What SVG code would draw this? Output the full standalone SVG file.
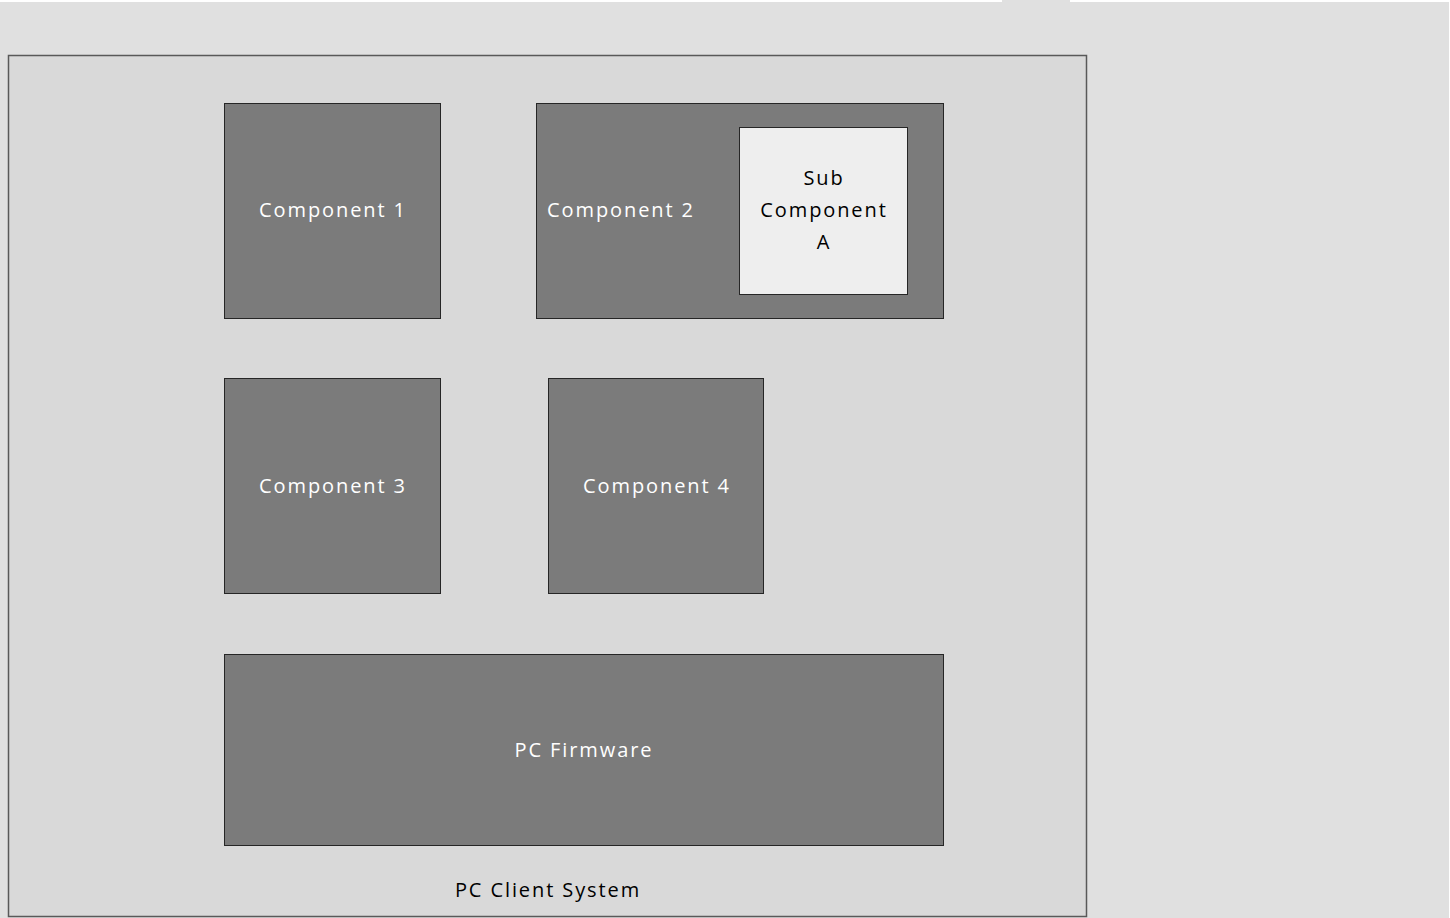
<svg xmlns="http://www.w3.org/2000/svg" width="1450" height="918" viewBox="0 0 1450 918">
<style>
.bg{fill:#e0e0e0}
.outer{fill:#d9d9d9;stroke:#595959;stroke-width:1.5}
.comp{fill:#7b7b7b;stroke:#262626;stroke-width:1}
.sub{fill:#eeeeee;stroke:#262626;stroke-width:1}
text{font-family:"Open Sans","Noto Sans",sans-serif;font-size:20px;text-anchor:middle;dominant-baseline:central;letter-spacing:1.9px}
.w{fill:#ffffff}
.k{fill:#000000}
</style>
<rect x="0" y="0" width="1450" height="918" fill="#ffffff"/>
<rect class="bg" x="0" y="2" width="1449" height="916"/>
<rect class="bg" x="1002" y="0" width="68" height="2"/>
<g id="pc-client-system">
<rect class="outer" x="8.5" y="55.5" width="1078" height="861"/>
<text class="k" x="548" y="889">PC Client System</text>
</g>
<g id="component-1">
<rect class="comp" x="224.5" y="103.5" width="216" height="215"/>
<text class="w" x="333" y="209">Component 1</text>
</g>
<g id="component-2">
<rect class="comp" x="536.5" y="103.5" width="407" height="215"/>
<text class="w" x="621" y="209">Component 2</text>
</g>
<g id="sub-component-a">
<rect class="sub" x="739.5" y="127.5" width="168" height="167"/>
<text class="k" x="824" y="177">Sub</text>
<text class="k" x="824" y="209">Component</text>
<text class="k" x="824" y="241">A</text>
</g>
<g id="component-3">
<rect class="comp" x="224.5" y="378.5" width="216" height="215"/>
<text class="w" x="333" y="485">Component 3</text>
</g>
<g id="component-4">
<rect class="comp" x="548.5" y="378.5" width="215" height="215"/>
<text class="w" x="657" y="485">Component 4</text>
</g>
<g id="pc-firmware">
<rect class="comp" x="224.5" y="654.5" width="719" height="191"/>
<text class="w" x="584" y="749">PC Firmware</text>
</g>
<g id="connectors"></g>
</svg>
